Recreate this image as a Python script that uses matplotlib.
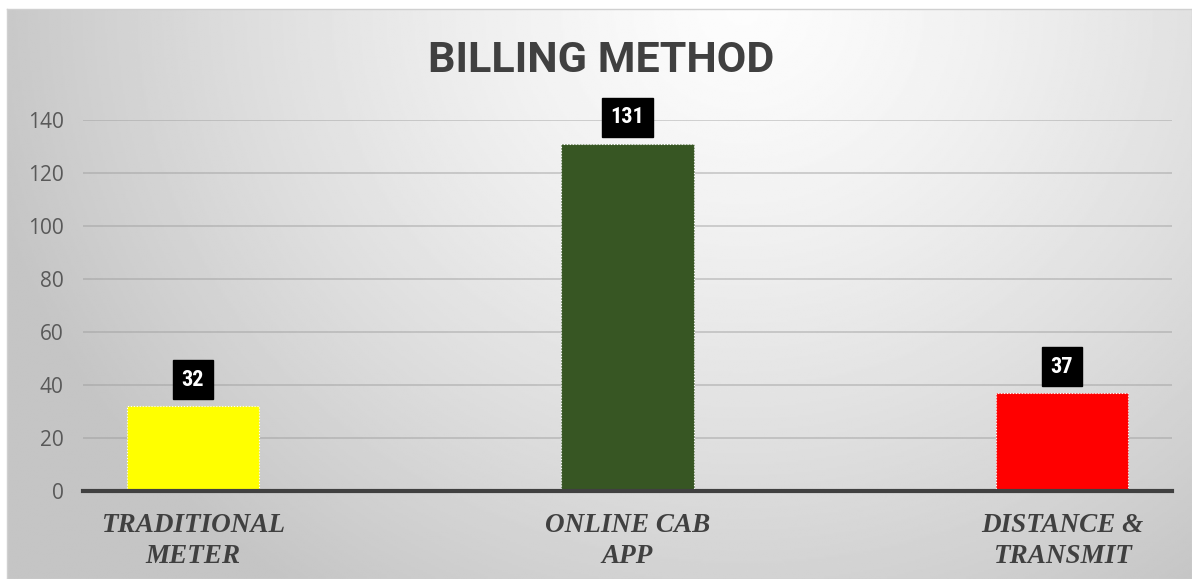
import numpy as np
import matplotlib
matplotlib.use("Agg")
import matplotlib.pyplot as plt

categories = ["TRADITIONAL\nMETER", "ONLINE CAB\nAPP", "DISTANCE &\nTRANSMIT"]
values = [32, 131, 37]
bar_colors = ["#FFFF00", "#375623", "#FF0000"]
yticks = [0, 20, 40, 60, 80, 100, 120, 140]

W, H = 1192, 579
fig = plt.figure(figsize=(W / 100, H / 100), dpi=100)
fig.patch.set_facecolor("white")

# background panel with radial gradient
bg = fig.add_axes([7 / W, 0, 1 - 7 / W, 1 - 9 / H])
ny, nx = 300, 600
yy, xx = np.mgrid[0:ny, 0:nx]
dx = (xx / nx - 0.62) * 1.9
dy = (yy / ny - 0.0) * 1.0
r = np.sqrt(dx ** 2 + dy ** 2) / 1.25
grad = 0.99 - 0.22 * np.clip(r, 0, 1) ** 1.3
bg.imshow(grad, cmap="gray", vmin=0, vmax=1, aspect="auto", extent=(0, 1, 0, 1), origin="upper")
bg.set_xticks([])
bg.set_yticks([])
for s in bg.spines.values():
    s.set_color("#d0d0d0")
    s.set_linewidth(1)

ax = fig.add_axes([83 / W, (H - 491) / H, 1089 / W, (491 - 120) / H])
ax.set_facecolor("none")
x = np.arange(len(categories))
bars = ax.bar(x, values, width=0.304, color=bar_colors, edgecolor="white",
              linewidth=0.8, linestyle=":", zorder=3)
ax.set_xlim(-0.253, 2.253)
ax.set_ylim(0, 140)
ax.set_yticks(yticks)
ax.yaxis.grid(True, color="#9a9a9a", linewidth=1.2, alpha=0.5, zorder=0)
ax.set_axisbelow(True)
for s in ["top", "right", "left"]:
    ax.spines[s].set_visible(False)
ax.spines["bottom"].set_color("#404040")
ax.spines["bottom"].set_linewidth(3)
ax.spines["bottom"].set_zorder(4)
ax.tick_params(axis="both", length=0)
ax.tick_params(axis="y", labelsize=15, labelcolor="#595959", pad=14)
for lbl in ax.get_yticklabels():
    lbl.set_fontfamily(["Open Sans", "DejaVu Sans"])

ax.set_xticks(x)
ax.set_xticklabels(categories, fontsize=19.5, fontweight="bold", fontstyle="italic",
                   color="#404040", family=["Liberation Serif", "DejaVu Serif"],
                   linespacing=1.3)
ax.tick_params(axis="x", pad=16)

for xi, v in zip(x, values):
    ax.annotate(str(v), (xi, v), xytext=(0, 19), textcoords="offset points",
                ha="center", va="center", fontsize=16, fontweight="bold", color="white",
                family=["Liberation Sans Narrow", "Roboto Condensed", "Roboto", "DejaVu Sans"],
                bbox=dict(boxstyle="square,pad=0.38", fc="black", ec="black"))

fig.text(0.5045, 1 - 60 / H, "BILLING METHOD", ha="center", va="center",
         fontsize=31, fontweight="bold", color="#404040",
         family=["Liberation Sans Narrow", "Roboto", "DejaVu Sans"])

fig.savefig("out.png", dpi=100)
